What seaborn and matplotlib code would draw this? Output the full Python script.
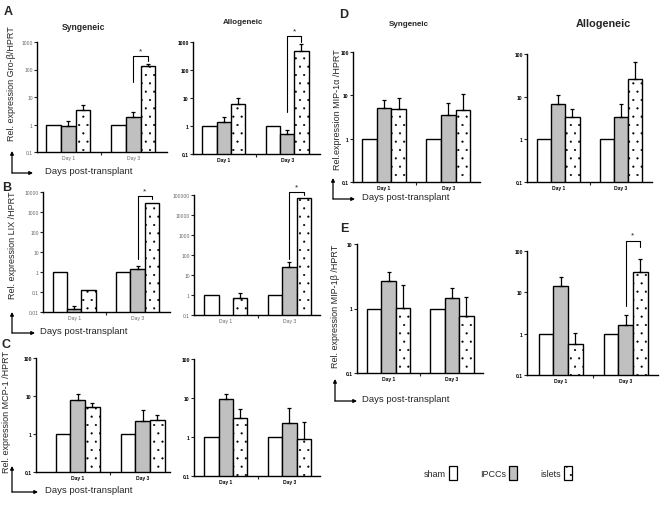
import numpy as np
import pandas as pd
import matplotlib
matplotlib.use("Agg")
import matplotlib.pyplot as plt
from matplotlib.patches import Patch
from matplotlib.ticker import NullLocator
import seaborn as sns

days = ["Day 1", "Day 3"]
groups = ["sham", "IPCCs", "islets"]

# mean relative expression per day: [sham, IPCCs, islets]  and SEM (upper whisker)
gro_syn = [[1.0, 0.9, 3.4], [1.0, 1.9, 135]]
gro_syn_sem = [[0, 0.4, 1.7], [0, 0.9, 23]]
gro_allo = [[1.0, 1.4, 6.1], [1.0, 0.52, 480]]
gro_allo_sem = [[0, 0.7, 3.9], [0, 0.2, 370]]

lix_syn = [[1.0, 0.014, 0.12], [1.0, 1.4, 2900]]
lix_syn_sem = [[0, 0.006, 0], [0, 0.6, 0]]
lix_allo = [[1.0, np.nan, 0.7], [1.0, 25, 70000]]
lix_allo_sem = [[0, 0, 0.6], [0, 20, 0]]

mcp_syn = [[1.0, 8.0, 5.2], [1.0, 2.2, 2.3]]
mcp_syn_sem = [[0, 3.0, 1.4], [0, 2.0, 0.9]]
mcp_allo = [[1.0, 9.4, 3.1], [1.0, 2.3, 0.9]]
mcp_allo_sem = [[0, 3.6, 2.1], [0, 3.2, 1.5]]

mip1a_syn = [[1.0, 5.0, 4.9], [1.0, 3.6, 4.5]]
mip1a_syn_sem = [[0, 3.0, 4.0], [0, 2.9, 6.5]]
mip1a_allo = [[1.0, 6.7, 3.3], [1.0, 3.3, 26]]
mip1a_allo_sem = [[0, 4.3, 1.8], [0, 3.4, 39]]

mip1b_syn = [[1.0, 2.7, 1.02], [1.0, 1.45, 0.76]]
mip1b_syn_sem = [[0, 1.0, 1.3], [0, 0.65, 0.74]]
mip1b_allo = [[1.0, 14, 0.56], [1.0, 1.6, 31]]
mip1b_allo_sem = [[0, 9, 0.48], [0, 1.2, 33]]

palette = {"sham": "white", "IPCCs": "#c0c0c0", "islets": "white"}
BAR_W = 0.68

sns.set_theme(style="ticks")
plt.rcParams["font.family"] = ["Liberation Sans", "DejaVu Sans"]
plt.rcParams["hatch.linewidth"] = 0.3
plt.rcParams["hatch.color"] = "#333333"

W, H = 662, 510
fig = plt.figure(figsize=(W / 100, H / 100), dpi=100)


def px(l, r, t, b):
    return [l / W, 1 - b / H, (r - l) / W, (b - t) / H]


def draw_panel(rect, means, sems, yticks, xlim, bracket=None, dark=True):
    ax = fig.add_axes(px(*rect))
    df = pd.DataFrame(
        [(d, g, means[i][j]) for i, d in enumerate(days) for j, g in enumerate(groups)],
        columns=["day", "group", "value"],
    ).dropna()
    sns.barplot(data=df, x="day", y="value", hue="group", order=days,
                hue_order=groups, palette=palette, width=BAR_W, saturation=1,
                edgecolor="black", linewidth=1.0, errorbar=None, legend=False,
                ax=ax)
    ax.set_yscale("log")
    step = BAR_W / 3
    for p in ax.patches:
        xc = p.get_x() + p.get_width() / 2
        if abs((xc - round(xc)) - step) < 0.02:
            p.set_hatch("..")
    for i in range(len(days)):
        for j in range(len(groups)):
            if sems[i][j] > 0 and not np.isnan(means[i][j]):
                ax.errorbar(i + (j - 1) * step, means[i][j], yerr=[[0], [sems[i][j]]],
                            fmt="none", ecolor="black", elinewidth=0.9,
                            capsize=1.5, capthick=0.9)
    ax.set_ylim(yticks[0], yticks[-1])
    ax.set_yticks(yticks, ["{:g}".format(v) for v in yticks])
    ax.yaxis.set_minor_locator(NullLocator())
    ax.set_xlim(*xlim)
    ax.set_xticks([0, 1], days)
    ax.set_xticks([0.5], minor=True)
    ax.tick_params(axis="x", which="major", length=0, pad=2)
    ax.tick_params(axis="x", which="minor", length=2.5, width=0.8)
    ax.tick_params(axis="y", length=2, width=0.8, pad=1)
    col = "black" if dark else "#666666"
    for lab in ax.get_xticklabels() + ax.get_yticklabels():
        lab.set_fontsize(3.6)
        lab.set_color(col)
        if dark:
            lab.set_fontweight("bold")
    ax.set_xlabel("")
    ax.set_ylabel("")
    sns.despine(ax=ax)
    for s in ("left", "bottom"):
        ax.spines[s].set_linewidth(1.0)
        ax.spines[s].set_color("black")
    if bracket is not None:
        lo_l, top, lo_r = bracket
        x0, x1 = 1.0, 1.0 + step
        ax.plot([x0, x0, x1, x1], [lo_l, top, top, lo_r], color="black",
                lw=0.8, clip_on=False)
        ax.text((x0 + x1) / 2, top * 1.15, "*", ha="center", va="bottom",
                fontsize=6, clip_on=False)
    return ax


draw_panel((37, 167, 43, 153), gro_syn, gro_syn_sem, [0.1, 1, 10, 100, 1000],
           (-0.48, 1.52), bracket=(35, 310, 200), dark=False)
draw_panel((193, 320, 43, 155), gro_allo, gro_allo_sem, [0.1, 1, 10, 100, 1000],
           (-0.49, 1.52), bracket=(3.2, 1600, 1000))
draw_panel((43, 170, 193, 313), lix_syn, lix_syn_sem,
           [0.01, 0.1, 1, 10, 100, 1000, 10000], (-0.49, 1.51),
           bracket=(4.5, 6300, 4500), dark=False)
draw_panel((194, 320, 196, 316), lix_allo, lix_allo_sem,
           [0.1, 1, 10, 100, 1000, 10000, 100000], (-0.5, 1.48),
           bracket=(63, 1.4e5, 1e5), dark=False)
draw_panel((36, 170, 359, 473), mcp_syn, mcp_syn_sem, [0.1, 1, 10, 100], (-0.64, 1.42))
draw_panel((194, 320, 360, 477), mcp_allo, mcp_allo_sem, [0.1, 1, 10, 100], (-0.5, 1.48))
draw_panel((353, 480, 53, 183), mip1a_syn, mip1a_syn_sem, [0.1, 1, 10, 100], (-0.48, 1.49))
draw_panel((527, 652, 55, 183), mip1a_allo, mip1a_allo_sem, [0.1, 1, 10, 100], (-0.5, 1.5))
draw_panel((357, 483, 245, 374), mip1b_syn, mip1b_syn_sem, [0.1, 1, 10], (-0.5, 1.49))
draw_panel((527, 658, 252, 376), mip1b_allo, mip1b_allo_sem, [0.1, 1, 10, 100],
           (-0.52, 1.5), bracket=(4.7, 175, 125))

# overlay in pixel coordinates for labels, titles and arrows
ov = fig.add_axes([0, 0, 1, 1])
ov.set_xlim(0, W)
ov.set_ylim(H, 0)
ov.axis("off")
ov.patch.set_alpha(0)

for letter, x, y in [("A", 8, 12), ("B", 7, 188), ("C", 6, 345), ("D", 344, 15), ("E", 344, 229)]:
    ov.text(x, y, letter, fontsize=9, fontweight="bold", ha="center", va="center")

for title, x, y, fs in [("Syngeneic", 84, 27, 6.2), ("Allogeneic", 243, 23, 5.8),
                        ("Syngeneic", 409, 24, 5.8), ("Allogeneic", 603, 24, 7.8)]:
    ov.text(x, y, title, fontsize=fs, fontweight="bold", ha="center", va="center")

for lab, x, y in [("Rel. expression Gro-\u03b2/HPRT", 12, 84),
                  ("Rel. expression LIX /HPRT", 13, 245),
                  ("Rel. expression MCP-1 /HPRT", 7, 412),
                  ("Rel.expression MIP-1\u03b1 /HPRT", 337, 110),
                  ("Rel. expression MIP-1\u03b2 /HPRT", 336, 306)]:
    ov.text(x, y, lab, rotation=90, fontsize=6.5, ha="center", va="center")

arrow = dict(arrowstyle="-|>", lw=0.9, color="black", mutation_scale=5,
             shrinkA=0, shrinkB=0)
for vx, tip, corner, hx, tx in [(12, 152, 174, 33, 45), (12, 313, 334, 35, 40),
                                (12, 467, 493, 38, 45), (333, 179, 200, 355, 362),
                                (335, 380, 402, 357, 362)]:
    ov.annotate("", xy=(vx, tip), xytext=(vx, corner), arrowprops=arrow)
    ov.annotate("", xy=(hx, corner), xytext=(vx, corner), arrowprops=arrow)
    ov.text(tx, corner - 2, "Days post-transplant", fontsize=6.8, ha="left", va="center")

handles = [Patch(facecolor=palette[g], edgecolor="black", lw=0.9,
                 hatch=".." if g == "islets" else None, label=g) for g in groups]
fig.legend(handles=handles, ncol=3, markerfirst=False, frameon=False,
           loc="center", bbox_to_anchor=(498 / W, 1 - 474 / H), fontsize=6.5,
           handlelength=0.9, handleheight=1.9, handletextpad=0.3,
           columnspacing=2.6)

fig.savefig("out.png", dpi=100)
